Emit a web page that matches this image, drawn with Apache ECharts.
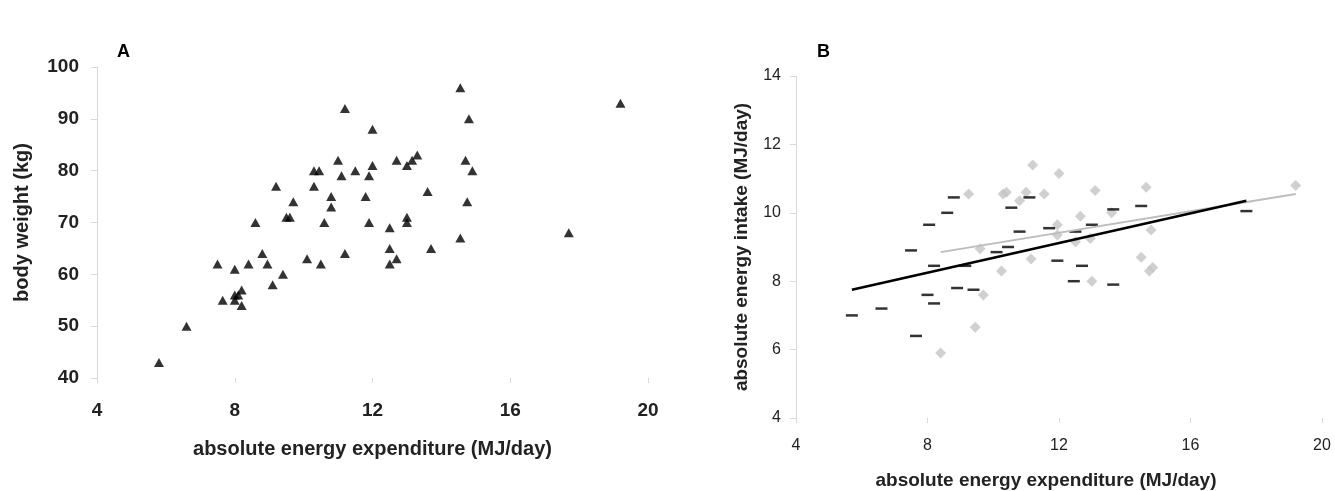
<!DOCTYPE html>
<html>
<head>
<meta charset="utf-8">
<title>energy expenditure</title>
<script src="https://cdn.jsdelivr.net/npm/echarts/dist/echarts.min.js"></script>
<style>
  html, body { margin: 0; padding: 0; background: #fff; }
  #main { width: 1335px; height: 491px; }
</style>
</head>
<body>
<div id="main"></div>
<script>
// 面板A：体重 vs 能量消耗 (三角形)
var weightPoints = [
  [11.2, 92], [12.0, 88], [11.0, 82], [12.0, 81], [12.7, 82], [13.0, 81],
  [10.3, 80], [10.45, 80], [11.1, 79], [11.5, 80], [11.9, 79], [9.2, 77],
  [10.3, 77], [9.7, 74], [10.8, 75], [10.8, 73], [11.8, 75], [9.5, 71],
  [9.6, 71], [8.6, 70], [10.6, 70], [11.9, 70], [12.5, 69], [13.0, 71],
  [13.0, 70], [8.8, 64], [10.1, 63], [10.5, 62], [11.2, 64], [12.5, 65],
  [12.7, 63], [12.5, 62], [7.5, 62], [8.0, 61], [8.4, 62], [8.95, 62],
  [9.4, 60], [9.1, 58], [7.65, 55], [8.0, 56], [8.0, 55], [8.2, 57],
  [8.1, 56], [8.2, 54], [6.6, 50], [5.8, 43], [14.55, 96], [19.2, 93],
  [14.8, 90], [13.3, 83], [13.15, 82], [14.7, 82], [14.9, 80], [13.6, 76],
  [14.75, 74], [14.55, 67], [17.7, 68], [13.7, 65]
];

// 面板B：能量摄入 vs 能量消耗
var intakeDash = [
  [8.8, 10.45], [8.6, 10.0], [8.05, 9.65], [7.5, 8.9], [8.2, 8.45], [9.15, 8.45],
  [8.0, 7.6], [8.9, 7.8], [9.4, 7.75], [8.2, 7.35], [5.7, 7.0], [6.6, 7.2],
  [7.65, 6.4], [10.1, 8.85], [10.45, 9.0], [10.8, 9.45], [10.55, 10.15], [11.1, 10.45],
  [11.7, 9.55], [11.95, 8.6], [12.45, 8.0], [12.7, 8.45], [13.65, 7.9], [12.5, 9.45],
  [13.0, 9.65], [13.65, 10.1], [14.5, 10.2], [17.7, 10.05]
];
var intakeDiamond = [
  [11.2, 11.4], [12.0, 11.15], [9.25, 10.55], [10.3, 10.55], [10.4, 10.6], [11.0, 10.6],
  [11.55, 10.55], [10.8, 10.35], [11.95, 9.65], [11.95, 9.35], [9.6, 8.95], [11.15, 8.65],
  [10.25, 8.3], [9.7, 7.6], [9.45, 6.65], [8.4, 5.9], [13.1, 10.65], [14.65, 10.75],
  [19.2, 10.8], [12.65, 9.9], [13.6, 10.0], [12.5, 9.15], [12.95, 9.25], [14.8, 9.5],
  [14.5, 8.7], [14.75, 8.3], [14.85, 8.4], [13.0, 8.0]
];
// 趋势线端点
var trendBlack = [[5.7, 7.75], [17.7, 10.35]];
var trendGray = [[8.4, 8.85], [19.2, 10.55]];

var font = 'Liberation Sans, Arial, sans-serif';
var tickStyle = { show: true, length: 5, lineStyle: { color: '#d9d9d9' } };

var myChart = echarts.init(document.getElementById('main'));

var option = {
  backgroundColor: '#fff',
  animation: false,
  textStyle: { fontFamily: font },
  title: [
    { text: 'A', left: 112, top: 38, textStyle: { fontSize: 18, fontWeight: 'bold', color: '#000', fontFamily: font } },
    { text: 'B', left: 812, top: 38, textStyle: { fontSize: 18, fontWeight: 'bold', color: '#000', fontFamily: font } }
  ],
  grid: [
    { left: 97, top: 67, width: 551, height: 311, outerBoundsMode: 'none', containLabel: false },
    { left: 796, top: 76, width: 526, height: 342, outerBoundsMode: 'none', containLabel: false }
  ],
  xAxis: [
    {
      gridIndex: 0, type: 'value', min: 4, max: 20, interval: 4,
      name: 'absolute energy expenditure (MJ/day)',
      nameLocation: 'middle', nameGap: 61,
      nameTextStyle: { fontSize: 20, fontWeight: 'bold', color: '#222', fontFamily: font },
      axisLine: { show: false },
      axisTick: tickStyle,
      axisLabel: { margin: 23, fontSize: 19, fontWeight: 'bold', color: '#222', fontFamily: font },
      splitLine: { show: false }
    },
    {
      gridIndex: 1, type: 'value', min: 4, max: 20, interval: 4,
      name: 'absolute energy expenditure (MJ/day)',
      nameLocation: 'middle', nameGap: 53,
      nameTextStyle: { fontSize: 19, fontWeight: 'bold', color: '#222', fontFamily: font, padding: [0, 26, 0, 0] },
      axisLine: { show: false },
      axisTick: tickStyle,
      axisLabel: { margin: 20, fontSize: 16, color: '#222', fontFamily: font },
      splitLine: { show: false }
    }
  ],
  yAxis: [
    {
      gridIndex: 0, type: 'value', min: 40, max: 100, interval: 10,
      name: 'body weight (kg)',
      nameLocation: 'middle', nameGap: 65,
      nameTextStyle: { fontSize: 20, fontWeight: 'bold', color: '#222', fontFamily: font },
      axisLine: { show: true, lineStyle: { color: '#d9d9d9', width: 1 } },
      axisTick: { show: true, length: 6, lineStyle: { color: '#d9d9d9' } },
      axisLabel: { margin: 18, fontSize: 19, fontWeight: 'bold', color: '#222', fontFamily: font },
      splitLine: { show: false }
    },
    {
      gridIndex: 1, type: 'value', min: 4, max: 14, interval: 2,
      name: 'absolute energy intake (MJ/day)',
      nameLocation: 'middle', nameGap: 45,
      nameTextStyle: { fontSize: 19, fontWeight: 'bold', color: '#222', fontFamily: font },
      axisLine: { show: true, lineStyle: { color: '#d9d9d9', width: 1 } },
      axisTick: { show: true, length: 6, lineStyle: { color: '#d9d9d9' } },
      axisLabel: { margin: 15, fontSize: 16, color: '#222', fontFamily: font },
      splitLine: { show: false }
    }
  ],
  series: [
    {
      name: 'weight', type: 'scatter', xAxisIndex: 0, yAxisIndex: 0,
      symbol: 'triangle', symbolSize: [10, 9],
      itemStyle: { color: '#000' },
      data: weightPoints
    },
    {
      name: 'diamond', type: 'scatter', xAxisIndex: 1, yAxisIndex: 1,
      symbol: 'diamond', symbolSize: [11, 11],
      itemStyle: { color: '#c4c4c4' },
      data: intakeDiamond
    },
    {
      name: 'dash', type: 'scatter', xAxisIndex: 1, yAxisIndex: 1,
      symbol: 'rect', symbolSize: [12, 2.5],
      itemStyle: { color: '#000' },
      data: intakeDash
    },
    {
      name: 'trend gray', type: 'line', xAxisIndex: 1, yAxisIndex: 1,
      symbol: 'none', z: 3,
      lineStyle: { color: '#bdbdbd', width: 2 },
      data: trendGray
    },
    {
      name: 'trend black', type: 'line', xAxisIndex: 1, yAxisIndex: 1,
      symbol: 'none', z: 4,
      lineStyle: { color: '#000', width: 2.5 },
      data: trendBlack
    }
  ]
};

myChart.setOption(option);
window.onresize = myChart.resize;
</script>
</body>
</html>
